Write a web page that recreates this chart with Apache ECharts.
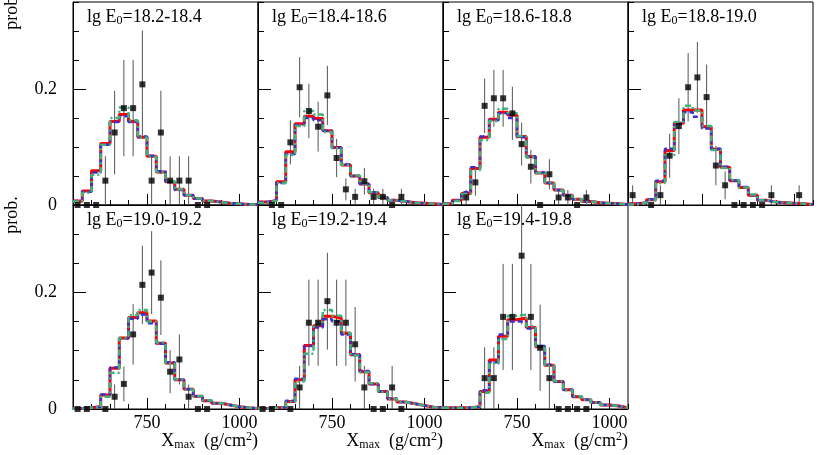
<!DOCTYPE html>
<html>
<head>
<meta charset="utf-8">
<script src="https://cdn.jsdelivr.net/npm/echarts@6.0.0/dist/echarts.min.js"></script>
<style>
  body { margin: 0; background: #fff; }
  #main { width: 817px; height: 455px; }
</style>
</head>
<body>
<div id="main"></div>
<script>
// bin edges / centres of the Xmax histograms (g/cm2)
const edges = [550, 575, 600, 625, 650, 675, 700, 725, 750, 775, 800, 825, 850, 875, 900, 925, 950, 975, 1000, 1025, 1050]
const centers = [562.5, 587.5, 612.5, 637.5, 662.5, 687.5, 712.5, 737.5, 762.5, 787.5, 812.5, 837.5, 862.5, 887.5, 912.5, 937.5, 962.5, 987.5, 1012.5, 1037.5]
const panelNames = ['18.2-18.4', '18.4-18.6', '18.6-18.8', '18.8-19.0', '19.0-19.2', '19.2-19.4', '19.4-19.8']
const xLabels = [750, 1000]
const yLabels = [0, 0.2]

// lg E0 = 18.2-18.4
const red1 = [0.007, 0.024, 0.059, 0.106, 0.144, 0.156, 0.144, 0.117, 0.084, 0.057, 0.040, 0.027, 0.017, 0.011, 0.007, 0.005, 0.003, 0.002, 0.001, 0.001]
const blue1 = [0.007, 0.023, 0.056, 0.104, 0.143, 0.153, 0.143, 0.118, 0.085, 0.058, 0.040, 0.026, 0.017, 0.011, 0.007, 0.005, 0.003, 0.002, 0.001, 0.001]
const green1 = [0.006, 0.021, 0.052, 0.104, 0.150, 0.168, 0.146, 0.116, 0.083, 0.057, 0.041, 0.027, 0.017, 0.011, 0.007, 0.005, 0.003, 0.002, 0.001, 0.001]
const pts1 = [0, 0, 0, 0.042, 0.125, 0.167, 0.167, 0.208, 0.042, 0.125, 0.042, 0.042, 0.042, 0, 0, null, null, null, null, null]
const err1 = [0, 0, 0, 0.042, 0.072, 0.083, 0.083, 0.093, 0.042, 0.072, 0.042, 0.042, 0.042, 0, 0, 0, 0, 0, 0, 0]

// lg E0 = 18.4-18.6
const red2 = [0.005, 0.008, 0.040, 0.092, 0.140, 0.153, 0.149, 0.128, 0.099, 0.069, 0.050, 0.036, 0.021, 0.013, 0.008, 0.006, 0.004, 0.003, 0.002, 0.001]
const blue2 = [0.005, 0.008, 0.038, 0.088, 0.138, 0.150, 0.146, 0.128, 0.099, 0.070, 0.050, 0.036, 0.022, 0.013, 0.008, 0.006, 0.004, 0.003, 0.002, 0.001]
const green2 = [0.004, 0.007, 0.038, 0.086, 0.136, 0.162, 0.156, 0.126, 0.098, 0.069, 0.051, 0.037, 0.022, 0.014, 0.008, 0.006, 0.004, 0.003, 0.002, 0.001]
const pts2 = [null, 0, 0, 0.108, 0.203, 0.162, 0.135, 0.189, 0.081, 0.027, 0.014, 0.041, 0.014, 0.014, 0, 0.014, null, null, null, null]
const err2 = [0, 0, 0, 0.038, 0.052, 0.047, 0.043, 0.051, 0.033, 0.019, 0.014, 0.023, 0.014, 0.014, 0, 0.014, 0, 0, 0, 0]

// lg E0 = 18.6-18.8
const red3 = [0.002, 0.008, 0.020, 0.063, 0.117, 0.148, 0.160, 0.155, 0.118, 0.083, 0.055, 0.038, 0.026, 0.017, 0.010, 0.006, 0.004, 0.003, 0.002, 0.001]
const blue3 = [0.002, 0.008, 0.022, 0.065, 0.118, 0.146, 0.158, 0.150, 0.117, 0.084, 0.056, 0.038, 0.026, 0.017, 0.010, 0.006, 0.004, 0.003, 0.002, 0.001]
const green3 = [0.002, 0.007, 0.019, 0.060, 0.112, 0.145, 0.166, 0.158, 0.119, 0.082, 0.055, 0.039, 0.025, 0.016, 0.010, 0.006, 0.004, 0.003, 0.002, 0.001]
const pts3 = [null, null, 0.013, 0.039, 0.171, 0.184, 0.184, 0.158, 0.105, 0.066, 0, 0.053, 0.013, 0.013, 0, 0.013, null, null, null, null]
const err3 = [0, 0, 0.013, 0.023, 0.047, 0.049, 0.049, 0.046, 0.037, 0.029, 0, 0.026, 0.013, 0.013, 0, 0.013, 0, 0, 0, 0]

// lg E0 = 18.8-19.0
const red4 = [0.002, 0.004, 0.009, 0.040, 0.094, 0.141, 0.164, 0.164, 0.135, 0.096, 0.065, 0.042, 0.030, 0.017, 0.008, 0.005, 0.004, 0.003, 0.002, 0.001]
const blue4 = [0.002, 0.004, 0.010, 0.042, 0.097, 0.140, 0.160, 0.152, 0.132, 0.097, 0.066, 0.042, 0.031, 0.017, 0.008, 0.005, 0.004, 0.003, 0.002, 0.001]
const green4 = [0.001, 0.004, 0.008, 0.038, 0.086, 0.143, 0.171, 0.163, 0.136, 0.095, 0.064, 0.043, 0.030, 0.018, 0.008, 0.005, 0.004, 0.003, 0.002, 0.001]
const pts4 = [0.017, null, 0, 0.017, 0.085, 0.136, 0.203, 0.220, 0.186, 0.068, 0.034, 0, 0, 0, 0, 0.017, null, null, 0.017, null]
const err4 = [0.017, 0, 0, 0.017, 0.038, 0.048, 0.059, 0.061, 0.056, 0.034, 0.024, 0, 0, 0, 0, 0.017, 0, 0, 0.017, 0]

// lg E0 = 19.0-19.2
const red5 = [0.001, 0.002, 0.004, 0.024, 0.070, 0.122, 0.157, 0.165, 0.151, 0.113, 0.079, 0.050, 0.034, 0.022, 0.014, 0.010, 0.007, 0.004, 0.002, 0.001]
const blue5 = [0.001, 0.002, 0.004, 0.025, 0.071, 0.121, 0.155, 0.162, 0.147, 0.112, 0.080, 0.050, 0.034, 0.022, 0.014, 0.010, 0.007, 0.004, 0.002, 0.001]
const green5 = [0.001, 0.002, 0.003, 0.021, 0.062, 0.122, 0.161, 0.170, 0.150, 0.114, 0.078, 0.051, 0.033, 0.022, 0.015, 0.010, 0.007, 0.004, 0.002, 0.001]
const pts5 = [0, 0, null, 0, 0.021, 0.043, 0.128, 0.213, 0.234, 0.191, 0.064, 0.085, 0.021, 0, 0, null, null, null, null, null]
const err5 = [0, 0, 0, 0, 0.021, 0.030, 0.052, 0.067, 0.071, 0.064, 0.037, 0.043, 0.021, 0, 0, 0, 0, 0, 0, 0]

// lg E0 = 19.2-19.4
const red6 = [0.001, 0.002, 0.003, 0.013, 0.050, 0.109, 0.143, 0.159, 0.156, 0.130, 0.093, 0.064, 0.043, 0.030, 0.017, 0.012, 0.009, 0.006, 0.003, 0.002]
const blue6 = [0.001, 0.002, 0.003, 0.014, 0.052, 0.108, 0.140, 0.154, 0.150, 0.128, 0.094, 0.065, 0.043, 0.030, 0.018, 0.012, 0.009, 0.006, 0.003, 0.002]
const green6 = [0.001, 0.002, 0.003, 0.012, 0.047, 0.095, 0.145, 0.170, 0.160, 0.131, 0.092, 0.063, 0.044, 0.029, 0.017, 0.012, 0.009, 0.006, 0.003, 0.002]
const pts6 = [0, 0, null, 0, 0.037, 0.148, 0.148, 0.185, 0.148, 0.148, 0.111, 0.037, 0, 0, 0.037, 0, null, null, null, null]
const err6 = [0, 0, 0, 0, 0.037, 0.074, 0.074, 0.083, 0.074, 0.074, 0.064, 0.037, 0, 0, 0.037, 0, 0, 0, 0, 0]

// lg E0 = 19.4-19.8
const red7 = [0.002, 0.002, 0.002, 0.004, 0.030, 0.084, 0.125, 0.153, 0.156, 0.140, 0.107, 0.075, 0.047, 0.033, 0.021, 0.016, 0.011, 0.007, 0.005, 0.002]
const blue7 = [0.002, 0.002, 0.002, 0.004, 0.032, 0.080, 0.128, 0.150, 0.150, 0.138, 0.108, 0.076, 0.047, 0.033, 0.021, 0.016, 0.011, 0.007, 0.005, 0.002]
const green7 = [0.002, 0.002, 0.002, 0.004, 0.028, 0.078, 0.120, 0.160, 0.162, 0.142, 0.105, 0.074, 0.048, 0.032, 0.022, 0.016, 0.011, 0.007, 0.005, 0.002]
const pts7 = [null, null, null, null, 0.053, 0.053, 0.158, 0.158, 0.263, 0.158, 0.105, 0.053, 0, 0, 0, 0, null, null, null, null]
const err7 = [0, 0, 0, 0, 0.053, 0.053, 0.091, 0.091, 0.118, 0.091, 0.074, 0.053, 0, 0, 0, 0, 0, 0, 0, 0]

const panels = [
  { red: red1, blue: blue1, green: green1, pts: pts1, err: err1 },
  { red: red2, blue: blue2, green: green2, pts: pts2, err: err2 },
  { red: red3, blue: blue3, green: green3, pts: pts3, err: err3 },
  { red: red4, blue: blue4, green: green4, pts: pts4, err: err4 },
  { red: red5, blue: blue5, green: green5, pts: pts5, err: err5 },
  { red: red6, blue: blue6, green: green6, pts: pts6, err: err6 },
  { red: red7, blue: blue7, green: green7, pts: pts7, err: err7 }
]

const FONT = 'Liberation Serif'
const colLeft = [73, 258, 443, 628]
const rowTop = [2, 205]
const rowH = [203, 204]
const PW = 185

const rich = {
  a: { fontFamily: FONT, fontSize: 18, fontWeight: 'normal', color: '#000', lineHeight: 20 },
  b: { fontFamily: FONT, fontSize: 12, fontWeight: 'normal', color: '#000', lineHeight: 6, verticalAlign: 'bottom' },
  c: { fontFamily: FONT, fontSize: 12, fontWeight: 'normal', color: '#000', lineHeight: 8, verticalAlign: 'top' }
}

// histogram as step line through the bin edges
function histLine (vals) {
  return edges.map((e, k) => [e, vals[Math.min(k, vals.length - 1)]])
}
function points (vals) {
  let out = []
  centers.forEach((c, k) => {
    if (vals[k] !== null) out.push([c, vals[k]])
  })
  return out
}
function errBars (vals, errs) {
  let out = []
  centers.forEach((c, k) => {
    if (vals[k] !== null && errs[k] > 0) out.push([c, vals[k] - errs[k], vals[k] + errs[k]])
  })
  return out
}
function near (v, list) {
  return list.some(t => Math.abs(v - t) < 1e-6)
}

let grids = []
let xAxes = []
let yAxes = []
let series = []
let titles = []

panels.forEach((p, i) => {
  const r = i < 4 ? 0 : 1
  const c = i < 4 ? i : i - 4
  grids.push({
    left: colLeft[c], top: rowTop[r], width: PW, height: rowH[r],
    show: true, borderColor: '#000', borderWidth: 1, backgroundColor: 'transparent'
  })
  // minor ticks every 50 + labels
  xAxes.push({
    gridIndex: i, type: 'value', min: 550, max: 1050, interval: 50, position: 'bottom',
    axisLine: { show: true, lineStyle: { color: '#000', width: 1 } },
    axisTick: { show: true, inside: true, length: 5, lineStyle: { color: '#000', width: 1 } },
    axisLabel: {
      show: r === 1, margin: 5, color: '#000', fontFamily: FONT, fontSize: 18,
      formatter: v => near(v, xLabels) ? String(v) : ''
    },
    splitLine: { show: false }
  })
  // long ticks at 750, 1000
  xAxes.push({
    gridIndex: i, type: 'value', min: 550, max: 1050, position: 'bottom',
    axisLine: { show: false },
    axisTick: { show: true, inside: true, length: 11, customValues: xLabels, lineStyle: { color: '#000', width: 1 } },
    axisLabel: { show: false },
    splitLine: { show: false }
  })
  yAxes.push({
    gridIndex: i, type: 'value', min: 0, max: 0.35, interval: 0.05, position: 'left',
    axisLine: { show: true, lineStyle: { color: '#000', width: 1 } },
    axisTick: { show: true, inside: true, length: 6, lineStyle: { color: '#000', width: 1 } },
    axisLabel: {
      show: c === 0, margin: 16, color: '#000', fontFamily: FONT, fontSize: 18,
      formatter: v => near(v, yLabels) ? String(Math.round(v * 10) / 10) : ''
    },
    splitLine: { show: false }
  })
  // long tick at 0.2
  yAxes.push({
    gridIndex: i, type: 'value', min: 0, max: 0.35, position: 'left',
    axisLine: { show: false },
    axisTick: { show: true, inside: true, length: 13, customValues: [0.2], lineStyle: { color: '#000', width: 1 } },
    axisLabel: { show: false },
    splitLine: { show: false }
  })

  const xi = i * 2
  const yi = i * 2
  series.push({
    type: 'custom', xAxisIndex: xi, yAxisIndex: yi, clip: true, z: 1, silent: true,
    data: errBars(p.pts, p.err),
    renderItem: function (params, api) {
      const a = api.coord([api.value(0), api.value(1)])
      const b = api.coord([api.value(0), api.value(2)])
      return {
        type: 'line',
        shape: { x1: a[0], y1: a[1], x2: b[0], y2: b[1] },
        style: { stroke: '#555', lineWidth: 1 }
      }
    }
  })
  series.push({
    type: 'line', step: 'end', xAxisIndex: xi, yAxisIndex: yi, z: 2, silent: true,
    data: histLine(p.red), showSymbol: false, symbol: 'none',
    lineStyle: { color: '#ff0000', width: 3 }
  })
  series.push({
    type: 'line', step: 'end', xAxisIndex: xi, yAxisIndex: yi, z: 3, silent: true,
    data: histLine(p.blue), showSymbol: false, symbol: 'none',
    lineStyle: { color: '#3a2fcf', width: 2.5, type: [5, 3] }
  })
  series.push({
    type: 'line', step: 'end', xAxisIndex: xi, yAxisIndex: yi, z: 4, silent: true,
    data: histLine(p.green), showSymbol: false, symbol: 'none',
    lineStyle: { color: '#3cb47c', width: 2.5, type: [6, 3, 2, 3] }
  })
  series.push({
    type: 'scatter', xAxisIndex: xi, yAxisIndex: yi, z: 5, silent: true,
    data: points(p.pts), symbol: 'rect', symbolSize: 6,
    itemStyle: { color: '#000' }
  })

  titles.push({
    left: colLeft[c] + 14, top: rowTop[r] + 5, padding: 0,
    text: '{a|lg E}{b|0}{a|=' + panelNames[i] + '}',
    textStyle: { fontWeight: 'normal', rich: rich }
  })
  if (r === 1) {
    titles.push({
      right: 817 - (colLeft[c] + PW), top: 431, padding: 0,
      text: '{a|X}{b|max}{a|  (g/cm}{c|2}{a|)}',
      textStyle: { fontWeight: 'normal', rich: rich }
    })
  }
})

let myChart = echarts.init(document.getElementById('main'))
myChart.setOption({
  animation: false,
  backgroundColor: '#fff',
  title: titles,
  grid: grids,
  xAxis: xAxes,
  yAxis: yAxes,
  series: series,
  graphic: [
    {
      type: 'text', x: 12, y: 11, rotation: Math.PI / 2,
      style: { text: 'prob.', fontFamily: FONT, fontSize: 18, fill: '#000', align: 'center', verticalAlign: 'middle' }
    },
    {
      type: 'text', x: 12, y: 215, rotation: Math.PI / 2,
      style: { text: 'prob.', fontFamily: FONT, fontSize: 18, fill: '#000', align: 'center', verticalAlign: 'middle' }
    }
  ]
})
</script>
</body>
</html>
